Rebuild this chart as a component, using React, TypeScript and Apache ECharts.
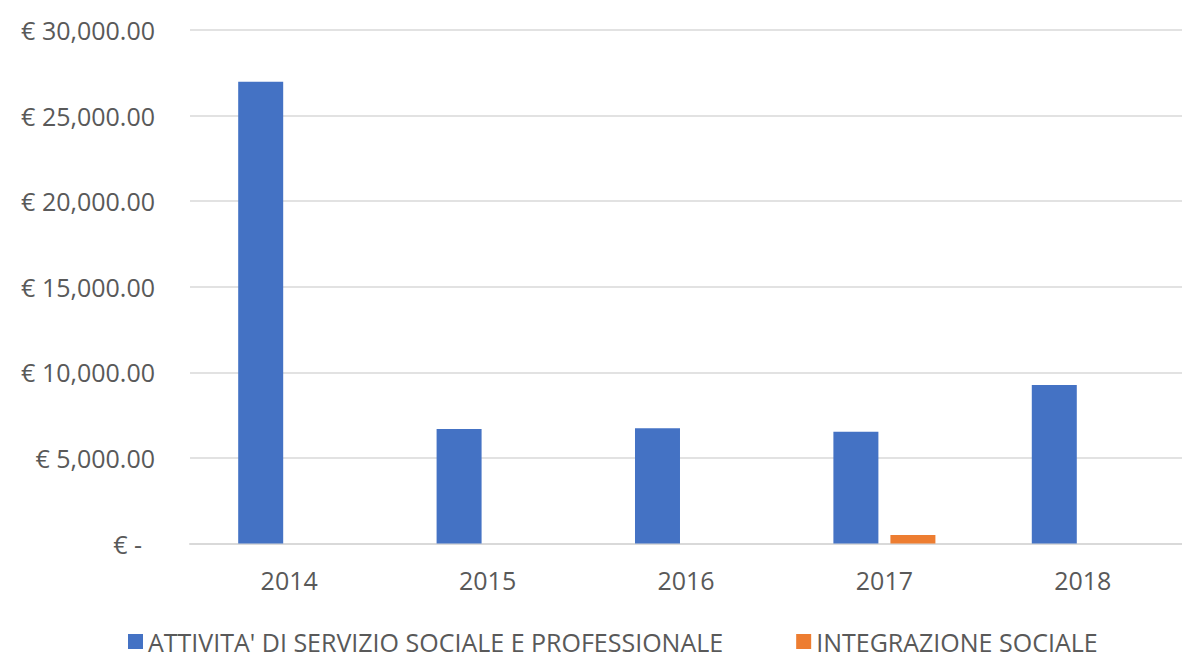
import React, { useEffect, useRef } from "react";
import * as echarts from "echarts";

const years = ["2014", "2015", "2016", "2017", "2018"];
const seriesNames = ["ATTIVITA' DI SERVIZIO SOCIALE E PROFESSIONALE", "INTEGRAZIONE SOCIALE"];
const servizioSociale = [26980, 6690, 6730, 6530, 9260];
const integrazioneSociale = [0, 0, 0, 500, 0];
const colors = ["#4472C4", "#ED7D31"];

const FONT = "'Open Sans', sans-serif";
const FS = 25;

function fmt(v: number): string {
  if (v === 0) return "{z|€ -}";
  return "€ " + v.toLocaleString("en-US", { minimumFractionDigits: 2, maximumFractionDigits: 2 });
}

export default function App() {
  const ref = useRef<HTMLDivElement>(null);
  useEffect(() => {
    document.body.style.margin = "0";
    const chart = echarts.init(ref.current!, null, { renderer: "svg" });
    chart.setOption({
      animation: false,
      backgroundColor: "#ffffff",
      color: colors,
      textStyle: { fontFamily: FONT },
      grid: { left: 190, top: 30, width: 996, bottom: 113.5, containLabel: false },
      legend: {
        left: 123,
        top: 624,
        icon: "rect",
        itemWidth: 15,
        itemHeight: 15,
        itemGap: 73,
        textStyle: { color: "#595959", fontSize: FS, fontFamily: FONT },
        data: seriesNames,
      },
      xAxis: {
        type: "category",
        data: years,
        axisTick: { show: false },
        axisLine: { show: true, lineStyle: { color: "#d9d9d9", width: 2 } },
        axisLabel: { color: "#595959", fontSize: FS, margin: 24, fontFamily: FONT },
      },
      yAxis: {
        type: "value",
        min: 0,
        max: 30000,
        interval: 5000,
        axisLine: { show: false },
        axisTick: { show: false },
        splitLine: { lineStyle: { color: "#d9d9d9", width: 1.5 } },
        axisLabel: {
          color: "#595959",
          fontSize: FS,
          margin: 35,
          fontFamily: FONT,
          formatter: fmt,
          rich: { z: { color: "#595959", fontSize: FS, fontFamily: FONT, padding: [0, 13, 0, 0] } },
        },
      },
      series: [
        {
          name: seriesNames[0],
          type: "bar",
          data: servizioSociale,
          barWidth: 45,
          barGap: "26.7%",
          itemStyle: { color: colors[0] },
        },
        {
          name: seriesNames[1],
          type: "bar",
          data: integrazioneSociale,
          barWidth: 45,
          barGap: "26.7%",
          itemStyle: { color: colors[1] },
        },
      ],
    });
    return () => chart.dispose();
  }, []);
  return <div ref={ref} style={{ width: 1182, height: 657 }} />;
}
